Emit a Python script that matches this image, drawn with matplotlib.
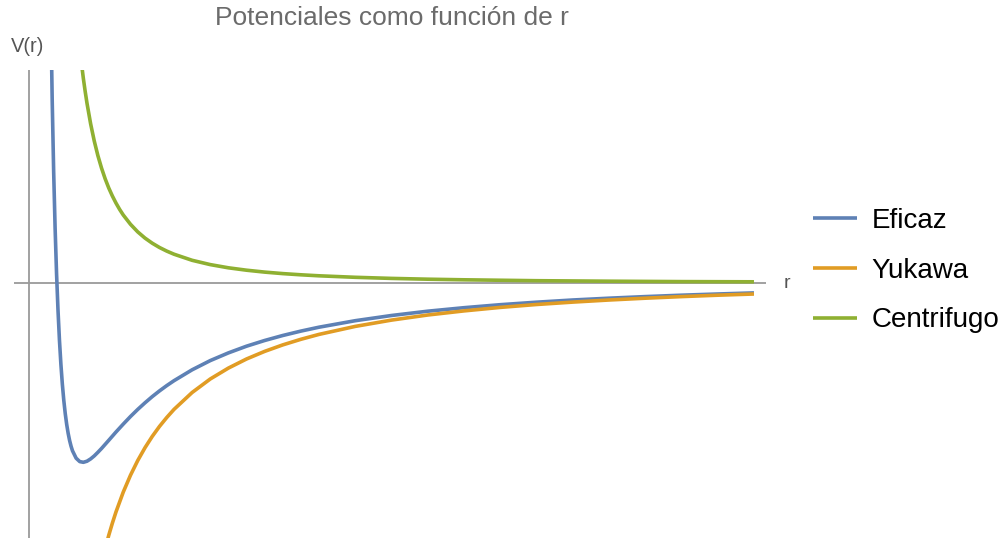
import matplotlib
matplotlib.use("Agg")
import matplotlib.pyplot as plt

plt.rcParams['font.family'] = ['Liberation Sans', 'DejaVu Sans']

# Potentials sampled along r (arbitrary units)
r_eficaz = [0.28, 0.30, 0.32, 0.34, 0.36, 0.38, 0.40, 0.42, 0.44, 0.46, 0.48,
            0.50, 0.52, 0.54, 0.56, 0.58, 0.60, 0.65, 0.70, 0.75, 0.80, 0.85,
            0.90, 0.95, 1.0, 1.1, 1.2, 1.3, 1.4, 1.5, 1.6, 1.7, 1.8, 1.9, 2.0,
            2.25, 2.5, 2.75, 3.0, 3.25, 3.5, 3.75, 4.0, 4.5, 5.0, 5.5, 6.0,
            6.5, 7.0, 7.5, 8.0, 8.5, 9.0, 9.5, 10.0]
v_eficaz = [3.877, 2.727, 1.826, 1.116, 0.549, 0.094, -0.273, -0.572, -0.814,
            -1.013, -1.175, -1.307, -1.415, -1.503, -1.575, -1.632, -1.678,
            -1.752, -1.786, -1.793, -1.782, -1.759, -1.729, -1.693, -1.655,
            -1.573, -1.490, -1.411, -1.335, -1.264, -1.198, -1.136, -1.079,
            -1.026, -0.977, -0.868, -0.776, -0.699, -0.632, -0.575, -0.525,
            -0.481, -0.442, -0.377, -0.325, -0.282, -0.247, -0.217, -0.192,
            -0.170, -0.152, -0.136, -0.122, -0.110, -0.099]

r_yukawa = [1.0, 1.05, 1.1, 1.15, 1.2, 1.3, 1.4, 1.5, 1.6, 1.7, 1.8, 1.9, 2.0,
            2.25, 2.5, 2.75, 3.0, 3.25, 3.5, 3.75, 4.0, 4.5, 5.0, 5.5, 6.0,
            6.5, 7.0, 7.5, 8.0, 8.5, 9.0, 9.5, 10.0]
v_yukawa = [-2.805, -2.657, -2.523, -2.401, -2.289, -2.091, -1.922, -1.775,
            -1.647, -1.534, -1.434, -1.345, -1.264, -1.095, -0.960, -0.851,
            -0.760, -0.684, -0.619, -0.563, -0.514, -0.434, -0.371, -0.320,
            -0.279, -0.244, -0.215, -0.191, -0.170, -0.152, -0.136, -0.122,
            -0.110]

r_centrifugo = [0.70, 0.725, 0.75, 0.775, 0.80, 0.85, 0.90, 0.95, 1.0, 1.05,
                1.1, 1.15, 1.2, 1.25, 1.3, 1.4, 1.5, 1.6, 1.7, 1.8, 1.9, 2.0,
                2.25, 2.5, 2.75, 3.0, 3.25, 3.5, 3.75, 4.0, 4.5, 5.0, 5.5, 6.0,
                7.0, 8.0, 9.0, 10.0]
v_centrifugo = [2.347, 2.188, 2.044, 1.915, 1.797, 1.592, 1.420, 1.274, 1.150,
                1.043, 0.950, 0.870, 0.799, 0.736, 0.680, 0.587, 0.511, 0.449,
                0.398, 0.355, 0.319, 0.288, 0.227, 0.184, 0.152, 0.128, 0.109,
                0.094, 0.082, 0.072, 0.057, 0.046, 0.038, 0.032, 0.023, 0.018,
                0.014, 0.012]

labels = ["Eficaz", "Yukawa", "Centrifugo"]
colors = ["#5E81B5", "#E19C24", "#8FB032"]

W, H = 1005, 538
fig = plt.figure(figsize=(W / 100, H / 100), dpi=100)
ax = fig.add_axes([14 / W, 0, 752 / W, 468 / H])
ax.set_xlim(-0.207, 10.166)
ax.set_ylim(-2.55, 2.13)
for s in ax.spines.values():
    s.set_visible(False)
ax.set_xticks([])
ax.set_yticks([])

ax.axhline(0, color="#9a9a9a", lw=1.3, zorder=1)
ax.axvline(0, color="#9a9a9a", lw=1.3, zorder=1)

series = [(r_eficaz, v_eficaz), (r_yukawa, v_yukawa), (r_centrifugo, v_centrifugo)]
handles = []
for (rx, vy), lab, col in zip(series, labels, colors):
    h, = ax.plot(rx, vy, color=col, lw=2.6, label=lab, solid_capstyle="butt",
                 solid_joinstyle="round", zorder=3)
    handles.append(h)

fig.text(392 / W, 1 - 18 / H, "Potenciales como función de r", ha="center",
         va="center", fontsize=19, color="#6b6b6b")
fig.text(11 / W, 1 - 47 / H, "V(r)", ha="left", va="center", fontsize=14.5,
         color="#555555")
fig.text(784 / W, 1 - 283 / H, "r", ha="left", va="center", fontsize=14,
         color="#555555")

fig.legend(handles, labels, loc="upper left",
           bbox_to_anchor=(813 / W, 1 - 208 / H), frameon=False, fontsize=20,
           handlelength=1.6, handletextpad=0.5, labelspacing=0.85,
           borderpad=0, borderaxespad=0)

fig.savefig("out.png", dpi=100)
